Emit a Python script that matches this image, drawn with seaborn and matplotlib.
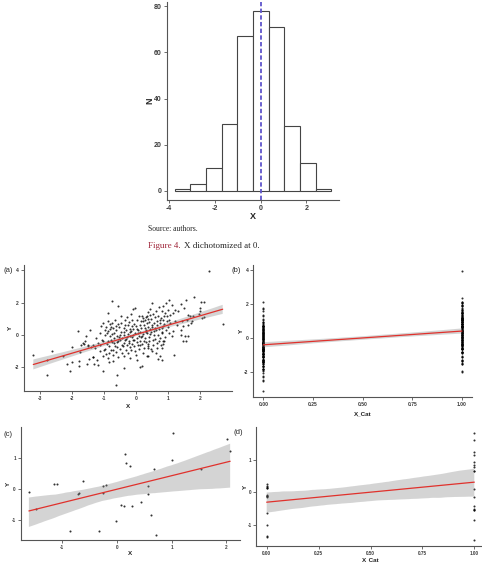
import numpy as np
import pandas as pd
import matplotlib
matplotlib.use("Agg")
import matplotlib.pyplot as plt
from matplotlib.collections import PolyCollection
import seaborn as sns

# top panel: histogram of X (bin edges / counts)
bin_edges = [-3.75, -3.07, -2.38, -1.70, -1.01, -0.33, 0.35, 1.03, 1.72, 2.41, 3.09]
bin_counts = [1, 3, 10, 29, 67, 78, 71, 28, 12, 1]

# panels (a) / (b): full sample, (x, y) pairs
x_full = [
    -3.22, -2.79, -2.79, -2.62,
    -2.30, -2.18, -2.08, -2.00, -2.00, -1.81, -1.80, -1.80, -1.76, -1.72,
    -1.66, -1.64, -1.60, -1.56, -1.52, -1.51, -1.46, -1.55, -1.48, -1.42,
    -1.36, -1.34, -1.33, -1.34, -1.29, -1.26, -1.24, -1.19, -1.19, -1.13,
    -1.13, -1.10, -1.08, -1.05, -1.05, -1.03, -1.03, -1.02, -1.12,
    -0.98, -0.98, -0.96, -0.93, -0.89, -0.87, -0.87, -0.84, -0.82, -0.80,
    -0.77, -0.77, -0.75, -0.74, -0.72, -0.72, -0.70, -0.64, -0.63, -0.61,
    -0.61, -0.59, -0.56, -0.56, -0.56, -0.53, -0.49, -0.48, -0.46, -0.46,
    -0.40, -0.40, -0.38, -0.375, -0.35, -0.34,
    -0.99, -0.95, -0.92, -0.90, -0.88, -0.86, -0.85, -0.83, -0.81, -0.79,
    -0.78, -0.76, -0.73, -0.71, -0.69, -0.68, -0.66, -0.65, -0.62, -0.60,
    -0.58, -0.55, -0.52, -0.51, -0.50, -0.47, -0.44, -0.42, -0.39, -0.37,
    -0.36,
    -0.32, -0.28, -0.27, -0.22, -0.20, -0.20, -0.20, -0.14, -0.11, -0.11,
    -0.09, -0.04, 0.01, 0.01, 0.01, 0.04, 0.09, 0.12, 0.12, 0.17,
    0.19, 0.19, 0.22, 0.22, 0.24, 0.27, 0.29, 0.30, 0.34,
    -0.33, -0.31, -0.30, -0.29, -0.26, -0.25, -0.24, -0.23, -0.21, -0.19,
    -0.18, -0.17, -0.16, -0.15, -0.13, -0.12, -0.10, -0.08, -0.07, -0.06,
    -0.05, -0.03, -0.02, 0.00, 0.02, 0.03, 0.05, 0.06, 0.07, 0.08,
    0.10, 0.11, 0.13, 0.14, 0.15, 0.16, 0.18, 0.20, 0.21, 0.23,
    0.25, 0.26, 0.28, 0.29, 0.31, 0.32, 0.33, 0.34, 0.35,
    0.38, 0.38, 0.36, 0.38, 0.43, 0.43, 0.48, 0.49, 0.50, 0.51,
    0.55, 0.58, 0.58, 0.64, 0.64, 0.64, 0.69, 0.69, 0.71, 0.74,
    0.76, 0.79, 0.79, 0.79, 0.84, 0.84, 0.93, 0.86, 0.82,
    0.90, 1.00, 0.95, 0.79, 0.93, 0.74, 0.84, 0.82, 0.74, 0.79,
    0.36, 0.37, 0.39, 0.40, 0.41, 0.42, 0.44, 0.45, 0.46, 0.47,
    0.50, 0.52, 0.53, 0.54, 0.56, 0.57, 0.60, 0.61, 0.62, 0.66,
    0.67, 0.70, 0.72, 0.75, 0.77, 0.81, 0.85, 0.88, 0.91, 0.96,
    0.98, 1.01,
    1.03, 1.11, 1.21, 1.39, 1.50, 1.54, 1.63, 1.68, 1.57, 1.11,
    1.52, 1.63, 1.18, 1.45, 1.55, 1.05, 1.16, 1.31, 1.05, 1.21,
    1.26, 1.42, 1.47, 1.63, 1.03, 1.16, 1.39, 1.39,
    2.28, 1.81, 2.01, 2.13, 1.99, 1.99, 1.97, 2.04, 1.75, 1.70,
    1.78, 2.10,
    2.70,
]
y_full = [
    -1.26, -2.46, -1.53, -0.99,
    -1.28, -1.80, -2.21, -1.65, -0.76, 0.23, -1.63, -1.90, -1.08, -0.62,
    -0.50, -0.54, -0.40, -0.04, -0.64, -0.66, 0.31, -1.80, -1.46, -0.76,
    -1.38, -1.36, -1.80, -0.64, -0.80, -0.19, -1.53, -0.50, -1.84, 0.12,
    -1.01, 0.55, -0.30, -0.35, -2.25, -1.32, 0.74, -0.95, -0.62,
    -0.02, -0.85, 0.47, -0.56, 1.36, 0.23, -1.42, -1.11, 0.68, -0.29,
    2.13, 0.06, 0.74, -1.26, 0.43, -0.91, -0.50, 0.58, -3.12, -2.50,
    -0.08, -0.76, 1.78, -0.35, -1.38, 0.47, 0.19, 1.16, -0.60, -1.11,
    0.43, 0.02, -1.32, -2.06, -0.29, 0.95,
    0.30, -1.20, 0.10, -0.40, 0.85, -0.70, -1.70, 0.35, -0.05, -0.95,
    0.50, -0.45, -1.60, 0.15, -0.20, 0.95, -0.65, -1.05, 0.30, -0.45,
    0.70, -0.10, -0.85, 0.00, -0.30, 0.75, -0.20, -0.70, 0.20, -0.50,
    0.60,
    -0.91, -0.14, 0.64, -0.50, 0.19, -0.76, -1.42, 0.54, 1.63, -0.29,
    0.02, -1.01, 0.37, -0.43, -1.53, 0.12, -0.85, 0.64, -0.64, -0.08,
    1.16, -1.90, 0.85, -1.11, -0.35, 0.43, 0.19, 1.09, 0.74,
    0.30, -0.25, 1.10, -0.60, 0.05, -1.10, 0.80, -0.35, 0.40, -0.05,
    1.30, -0.95, 0.25, -0.55, 0.90, -0.15, 0.35, -0.70, 0.70, -0.30,
    1.70, 0.15, -1.25, 0.55, -0.20, 0.95, -0.60, 0.30, -0.05, 1.20,
    -0.35, 0.20, -1.95, 0.85, -0.15, 0.45, -0.55, 0.05, 1.05, -0.80,
    0.60, -0.20, 0.95, -0.45, 0.30, -1.30, 0.10, 1.15, -0.65,
    0.99, -0.56, -0.80, -1.32, 1.22, 0.06, 0.64, 1.98, -1.01, -0.29,
    0.23, 1.09, 0.43, 0.85, -0.50, -0.80, 0.02, -1.47, 1.71, 0.95,
    -0.64, 1.47, 0.19, -0.80, 0.54, 1.78, 1.98, -0.35, 0.95,
    1.36, 1.57, 0.85, 0.43, 0.33, -0.19, -0.39, -0.56, -1.32, -1.53,
    0.50, 1.45, -0.15, 0.80, -0.40, 0.35, 1.60, -0.85, 0.20, 1.00,
    0.50, -0.60, 1.30, 0.00, 0.75, -0.25, 1.50, 0.30, -1.10, 0.60,
    1.20, 0.35, -0.35, 0.75, 1.05, 0.10, 1.15, 0.65, -0.10, 1.20,
    0.50, 0.90,
    2.15, 1.88, 1.57, 1.92, 1.67, 2.15, 1.26, 1.16, 0.95, -0.08,
    -0.08, -0.04, -1.26, -0.39, -0.39, 1.26, 1.36, 1.47, 0.74, 0.85,
    0.64, 0.85, 0.54, 0.64, 0.12, 0.27, 0.33, 0.02,
    3.98, 2.35, 2.06, 2.06, 1.67, 1.47, 1.30, 1.05, 0.85, 0.74,
    1.20, 1.10,
    0.70,
]

# panels (c) / (d): small sample
x_small = [-1.61, -1.48, -1.16, -1.09, -0.86, -0.62, -0.72, -0.69, -0.33, -0.26,
           -0.20, -0.25, -0.02, 0.07, 0.12, 0.14, 0.16, 0.23, 0.28, 0.44,
           0.56, 0.56, 0.62, 0.67, 0.71, 1.01, 1.03, 1.53, 2.02, 2.07]
y_small = [-0.08, -0.65, 0.18, 0.17, -1.37, 0.27, -0.14, -0.12, -1.36, 0.12,
           0.14, -0.12, -1.02, -0.52, -0.55, 1.16, 0.85, 0.77, -0.55, -0.41,
           0.11, -0.15, -0.85, 0.67, -1.49, 0.94, 1.84, 0.65, 1.62, 1.25]

full = pd.DataFrame({"X": x_full, "Y": y_full})
full["X_Cat"] = (full["X"] > 0).astype(float)
small = pd.DataFrame({"X": x_small, "Y": y_small})
small["X_Cat"] = (small["X"] > 0).astype(float)
hist_df = pd.DataFrame({"mid": (np.array(bin_edges[:-1]) + np.array(bin_edges[1:])) / 2,
                        "n": bin_counts})

sns.set_style("ticks")
plt.rcParams["font.family"] = ["Liberation Sans", "DejaVu Sans"]
plt.rcParams["axes.unicode_minus"] = False

W, H = 482, 562
fig = plt.figure(figsize=(W / 100, H / 100), dpi=100)


def px_axes(left, top, right, bottom):
    return fig.add_axes([left / W, 1 - bottom / H, (right - left) / W, (bottom - top) / H])


def style(ax, fs):
    sns.despine(ax=ax)
    for s in ("left", "bottom"):
        ax.spines[s].set_color("#555555")
        ax.spines[s].set_linewidth(0.8)
    ax.tick_params(length=2, width=0.6, color="#555555", labelsize=fs,
                   labelcolor="#3a3a3a", pad=1.5)
    for lab in ax.get_xticklabels() + ax.get_yticklabels():
        lab.set_fontweight("bold")


# ---- histogram
ax = px_axes(166.7, 1.7, 339.3, 200)
sns.histplot(data=hist_df, x="mid", weights="n", bins=bin_edges, ax=ax,
             color="white", edgecolor="#444444", linewidth=0.8, alpha=1)
ax.axvline(0, color="#5f55cc", lw=1.3, ls=(0, (2.4, 1.3)))
ax.set_xlim(-4.09, 3.43)
ax.set_ylim(-3.9, 81.9)
ax.set_xticks([-4, -2, 0, 2])
ax.set_yticks([0, 20, 40, 60, 80])
style(ax, 5)
ax.set_xlabel("X", fontsize=6.5, fontweight="bold")
ax.set_ylabel("N", fontsize=6.5, fontweight="bold")
ax.xaxis.set_label_coords(0.5, -0.081)
ax.yaxis.set_label_coords(-0.097, 0.5)
ax.xaxis.label.set_va("center")
ax.yaxis.label.set_va("center")

fig.text(147.7 / W, 1 - 229 / H, "Source: authors.", family="Liberation Serif",
         fontsize=5.5, va="center", ha="left")
fig.text(147.7 / W, 1 - 246 / H, "Figure 4.", family="Liberation Serif",
         fontsize=6.5, va="center", ha="left", color="#a0263a")
fig.text(184.3 / W, 1 - 246 / H, "X dichotomized at 0.", family="Liberation Serif",
         fontsize=6.5, va="center", ha="left")


def reg_panel(ax, df, xcol, xlim, ylim, xticks, yticks, fmt, xl_y, yl_x, fs):
    sns.regplot(data=df, x=xcol, y="Y", ax=ax, color="black", seed=4,
                scatter_kws=dict(s=2.2, linewidths=0),
                line_kws=dict(color="#e0312c", lw=0.9))
    # grey confidence band like ggplot's geom_smooth
    for coll in ax.collections:
        if isinstance(coll, PolyCollection):
            coll.set_facecolor("#7f7f7f")
            coll.set_alpha(0.33)
            coll.set_edgecolor("none")
    ax.set_xlim(*xlim)
    ax.set_ylim(*ylim)
    ax.set_xticks(xticks)
    ax.set_yticks(yticks)
    ax.set_xticklabels([fmt.format(v) for v in xticks])
    style(ax, fs)
    ax.set_xlabel(xcol, fontsize=4.5, fontweight="bold", color="#222222")
    ax.set_ylabel("Y", fontsize=4.5, fontweight="bold", color="#222222")
    ax.xaxis.set_label_coords(0.5, xl_y)
    ax.yaxis.set_label_coords(yl_x, 0.5)
    ax.xaxis.label.set_va("center")
    ax.yaxis.label.set_va("center")


ax_a = px_axes(23.7, 265, 232.3, 391.1)
reg_panel(ax_a, full, "X", (-3.52, 3.0), (-3.47, 4.33), [-3, -2, -1, 0, 1, 2],
          [-2, 0, 2, 4], "{:g}", -0.125, -0.066, 3.6)
ax_b = px_axes(253.4, 264.6, 471.9, 397.4)
reg_panel(ax_b, full, "X_Cat", (-0.05, 1.05), (-3.47, 4.33), [0, 0.25, 0.5, 0.75, 1.0],
          [-2, 0, 2, 4], "{:.2f}", -0.125, -0.057, 3.6)
ax_c = px_axes(20.7, 427.4, 240, 540.4)
reg_panel(ax_c, small, "X", (-1.76, 2.25), (-1.66, 2.01), [-1, 0, 1, 2],
          [-1, 0, 1], "{:g}", -0.12, -0.057, 3.3)
ax_d = px_axes(256.3, 427.4, 484.7, 545.9)
reg_panel(ax_d, small, "X_Cat", (-0.05, 1.05), (-1.66, 2.01), [0, 0.25, 0.5, 0.75, 1.0],
          [-1, 0, 1], "{:.2f}", -0.119, -0.049, 3.3)

for lab, x, y in [("(a)", 3, 270.7), ("(b)", 231, 270.7), ("(c)", 3, 435), ("(d)", 234, 432)]:
    fig.text(x / W, 1 - y / H, lab, fontsize=5.5, va="center", ha="left")

fig.savefig("out.png", dpi=100)
